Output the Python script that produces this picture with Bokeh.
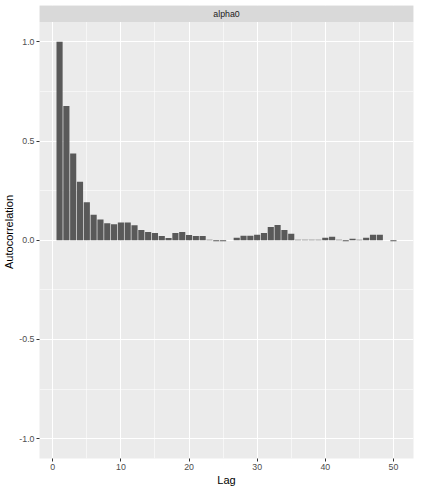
from bokeh.plotting import figure
from bokeh.models import Range1d, FixedTicker, NumeralTickFormatter, BoxAnnotation, Label
from bokeh.embed import file_html
from bokeh.resources import INLINE

# data
lags = list(range(1, 51))
acf = [1.000, 0.676, 0.437, 0.295, 0.192, 0.129, 0.104, 0.085, 0.080, 0.090,
       0.090, 0.075, 0.051, 0.041, 0.036, 0.021, 0.011, 0.036, 0.041, 0.026,
       0.021, 0.021, 0.002, -0.005, -0.005, 0.000, 0.013, 0.023, 0.023, 0.028,
       0.037, 0.067, 0.077, 0.052, 0.033, 0.003, 0.003, 0.003, 0.003, 0.013,
       0.018, 0.003, -0.005, 0.008, 0.003, 0.013, 0.028, 0.028, 0.000, -0.005]
x_ticks = [0, 10, 20, 30, 40, 50]
x_minor = [5, 15, 25, 35, 45]
y_ticks = [-1.0, -0.5, 0.0, 0.5, 1.0]
y_minor = [-0.75, -0.25, 0.25, 0.75]
facet = "alpha0"

FONT = "Liberation Sans"
x0, x1 = 0.55 - 0.05 * 49.9, 50.45 + 0.05 * 49.9
y0, y1 = -1.1, 1.1
strip_h = 0.083

p = figure(width=416, height=488, output_backend="svg", toolbar_location=None,
           x_range=Range1d(x0, x1), y_range=Range1d(y0, y1 + strip_h),
           min_border_left=0, min_border_right=3, min_border_top=5, min_border_bottom=0)
p.background_fill_color = "#EBEBEB"
p.border_fill_color = "white"
p.outline_line_color = None

p.vbar(x=lags, top=acf, bottom=0, width=0.9, fill_color="#595959", line_color=None)

for ax, t, m in ((p.xaxis[0], x_ticks, x_minor), (p.yaxis[0], y_ticks, y_minor)):
    ax.ticker = FixedTicker(ticks=t, minor_ticks=m)
    ax.axis_line_color = None
    ax.major_tick_line_color = "#333333"
    ax.major_tick_out = 3
    ax.major_tick_in = 0
    ax.minor_tick_line_color = None
    ax.major_label_text_font = FONT
    ax.major_label_text_font_size = "8.8px"
    ax.major_label_text_color = "#4D4D4D"
    ax.major_label_standoff = 1
    ax.axis_label_text_font = FONT
    ax.axis_label_text_font_size = "11px"
    ax.axis_label_text_color = "black"
    ax.axis_label_text_font_style = "normal"
    ax.axis_label_standoff = 1

p.yaxis[0].formatter = NumeralTickFormatter(format="0.0")
p.xaxis.axis_label = "Lag"
p.yaxis.axis_label = "Autocorrelation"

for g in (p.xgrid[0], p.ygrid[0]):
    g.grid_line_color = "white"
    g.grid_line_width = 1.1
    g.minor_grid_line_color = "white"
    g.minor_grid_line_width = 0.55

strip = BoxAnnotation(bottom=y1, top=y1 + strip_h, left=x0, right=x1,
                      fill_color="#D9D9D9", fill_alpha=1.0, line_color=None)
p.add_layout(strip)
p.add_layout(Label(x=(x0 + x1) / 2, y=y1 + strip_h / 2, text=facet,
                   text_align="center", text_baseline="middle",
                   text_font=FONT, text_font_size="8.8px", text_color="#1A1A1A"))

open("out.html", "w").write(file_html(p, INLINE))
